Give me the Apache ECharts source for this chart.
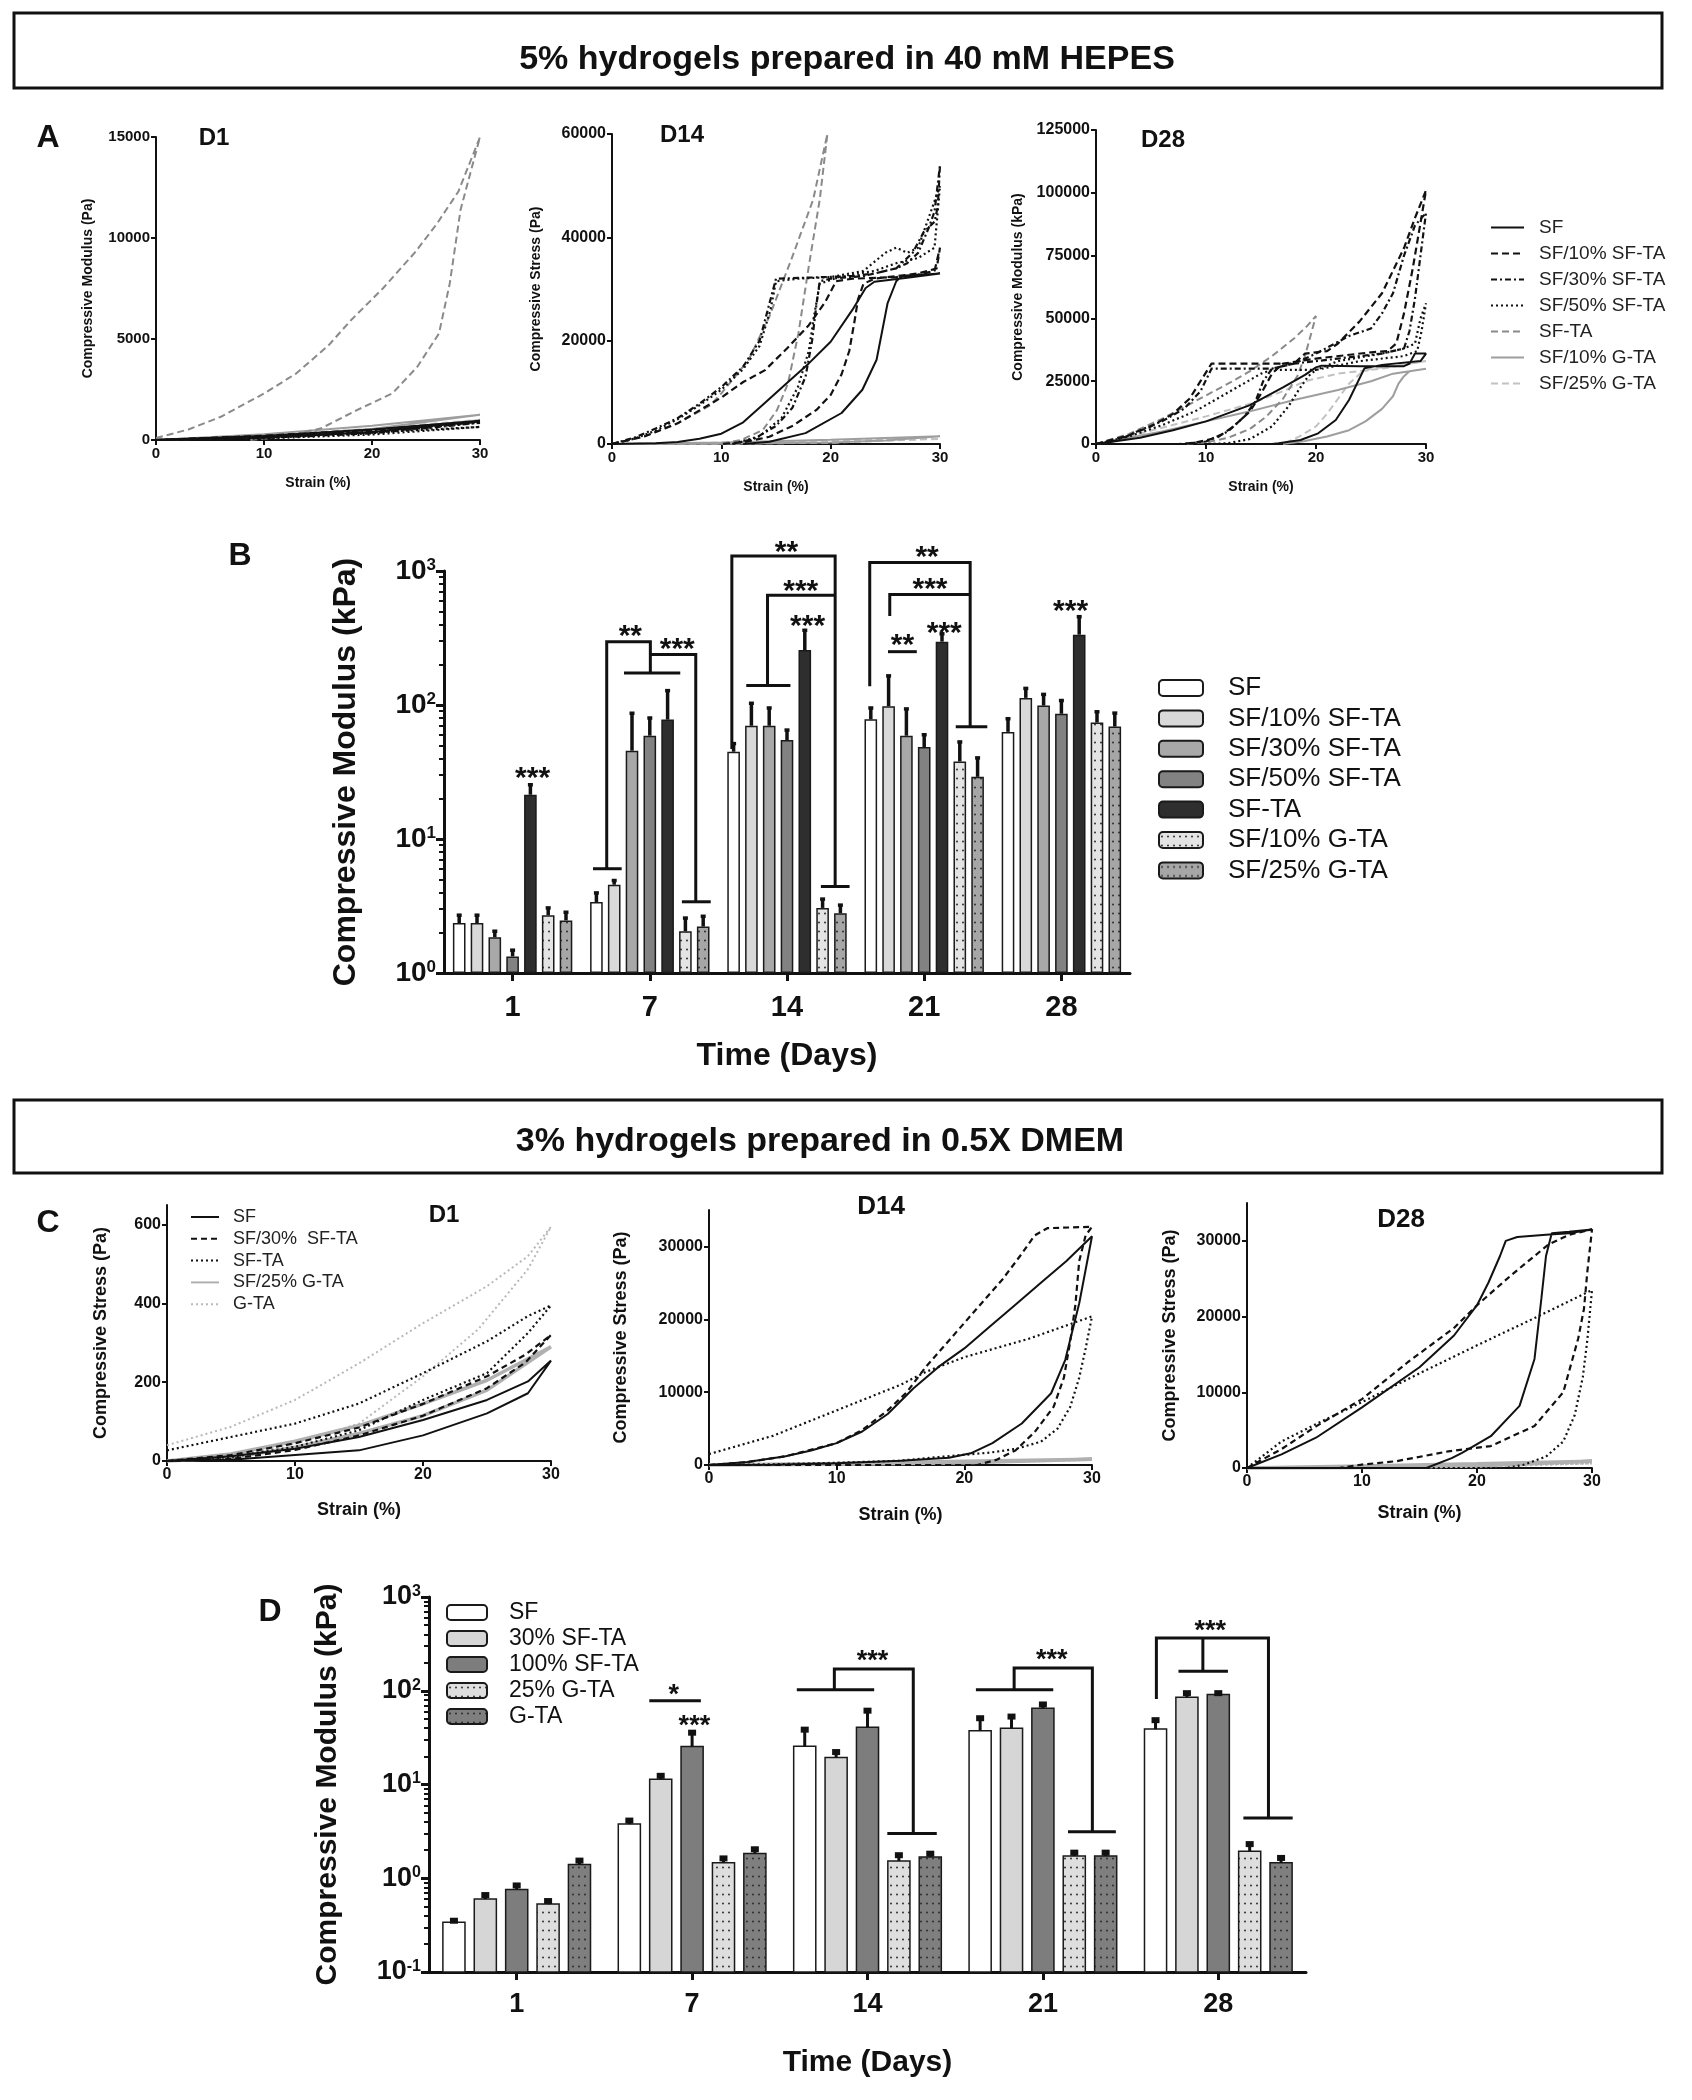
<!DOCTYPE html>
<html><head><meta charset="utf-8">
<script src="https://cdn.jsdelivr.net/npm/echarts@6/dist/echarts.min.js"></script>
<style>html,body{margin:0;padding:0;background:#fff}#c{width:1692px;height:2100px}</style>
</head><body><div id="c"></div>
<script>
// ================= DATA =================
const titleTop = '5% hydrogels prepared in 40 mM HEPES';
const titleBottom = '3% hydrogels prepared in 0.5X DMEM';
const groupsA = ['SF','SF/10% SF-TA','SF/30% SF-TA','SF/50% SF-TA','SF-TA','SF/10% G-TA','SF/25% G-TA'];
const groupsC = ['SF','SF/30%  SF-TA','SF-TA','SF/25% G-TA','G-TA'];
const groupsD = ['SF','30% SF-TA','100% SF-TA','25% G-TA','G-TA'];
const days = ['1','7','14','21','28'];
const C1_yTicks = [0,200,400,600];
const C2_yTicks = [0,10000,20000,30000];

// ---- Panel A, D1 (strain %, stress Pa) : loading then unloading
const A1_SF   = [[0,0],[10,200],[20,520],[30,950],[20,380],[10,120],[0,0]];
const A1_10SF = [[0,0],[10,210],[20,500],[30,920],[25,600],[20,380],[10,120],[0,0]];
const A1_30SF = [[0,0],[10,180],[20,450],[30,850],[20,330],[10,100],[0,0]];
const A1_50SF = [[0,0],[10,150],[20,380],[30,650],[20,270],[10,80],[0,0]];
const A1_SFTA = [[0,100],[3,520],[6,1150],[10,2300],[13,3300],[16,4700],[18,5900],[21,7500],[24,9300],[26,10700],[28,12300],[30,15000],
                 [28.2,11400],[27.2,7750],[26.2,5270],[24.2,3630],[21.9,2310],[18.6,1480],[15.3,580],[12,165],[8.7,0]];
const A1_10G  = [[0,0],[10,280],[20,700],[30,1250],[20,550],[10,180],[0,0]];
const A1_25G  = [[0,0],[10,230],[20,560],[30,1000],[20,420],[10,130],[0,0]];

// ---- Panel A, D14
const A14_SF   = [[0,0],[4,150],[6,400],[8,1000],[10,2000],[12,4200],[14,8000],[16,11800],[18,15600],[20,19800],[22,26000],[23.2,30200],[24,31400],[27,32200],[30,33000],
                  [26.5,32500],[26,31500],[25.2,27200],[24.2,16300],[22.9,10500],[21,6000],[17.7,2100],[14.4,450],[12,0]];
const A14_10SF = [[0,0],[3,1500],[6,4000],[8,6500],[10,9000],[12,12000],[14,14300],[16,18500],[18,23000],[19.5,27500],[20.5,31500],[22,32000],[26,32300],[28,32800],[29.5,33500],[30,38000],
                  [29.7,34000],[28,33000],[24,32000],[23,31000],[22.5,28000],[22.2,24000],[21.7,18000],[21,13500],[20,9500],[18.7,6600],[16.5,3500],[14.4,1400],[12.2,400],[10,0]];
const A14_30SF = [[0,0],[2,1200],[4,3000],[6,5000],[8,7800],[10,11000],[12,15000],[13.5,20000],[14.5,28000],[15,32000],[18,32200],[22,32500],[24,33000],[26,34000],[27,35000],[28,37000],[29,42000],[29.5,45000],[30,54000],
                  [29.8,46000],[29.5,43000],[28.5,41000],[27.5,37000],[26,34000],[23,32500],[20,32000],[19,31500],[18.7,27000],[18.3,20000],[17.7,13000],[16.5,7000],[15,3500],[13,1000],[11,0]];
const A14_50SF = [[0,0],[2,1000],[4,2600],[6,4800],[8,7500],[10,10500],[12,14500],[13.5,19000],[14.5,26000],[15,31500],[17,32000],[20,32300],[23,33500],[25,37000],[26,38000],[27,37000],[28,38000],[29,44000],[30,50000],
                  [29.5,38000],[28,36000],[26,35000],[24,33500],[21,32500],[19,31000],[18.5,25000],[18,18000],[17,11000],[15.5,5000],[13.5,1500],[11,0]];
const A14_SFTA = [[0,0],[3,1500],[6,4000],[9,7500],[10,9800],[12.5,16300],[14.4,24700],[16.4,35700],[18.4,47300],[19.7,60000],
                  [19,47300],[18,34400],[17.05,21400],[16.1,11760],[15.1,6590],[13.8,2710],[11.8,775],[9.9,0]];
const A14_10G  = [[0,0],[10,300],[20,800],[30,1500],[25,700],[20,300],[10,50],[0,0]];
const A14_25G  = [[0,0],[10,250],[20,600],[30,1000],[20,250],[10,50],[0,0]];

// ---- Panel A, D28
const A28_SF   = [[0,0],[4,2500],[7,5500],[10,9000],[14,15500],[17,22500],[19,27500],[20,30500],[20.5,31200],[24,31000],[28,31000],[28.5,32000],[29,36000],[30,36000],
                  [29.5,33000],[26,31500],[24.4,30100],[23,17500],[21.8,9550],[20.2,4250],[18.6,1600],[16.6,265],[16,0]];
const A28_10SF = [[0,0],[3,3500],[5,7000],[7,12000],[8.5,18000],[9.5,25000],[10.5,32000],[14,32000],[18,32000],[19,36000],[21,37000],[22,40000],[24,49000],[26,60000],[28,78000],[29,90000],[30,101000],
                  [29.5,88000],[28.8,70000],[28,52000],[27.3,40000],[26.5,37000],[25,36500],[20,34000],[17,32000],[16,28000],[15,20000],[14,13000],[12.5,7000],[11,2500],[9,500],[7.5,0]];
const A28_30SF = [[0,0],[2,1500],[4,5500],[6,9000],[8,14000],[9.5,21000],[10.5,30000],[16,30000],[18,32000],[20,36000],[23,43000],[25,46000],[26,52000],[27,60000],[28,75000],[29,87000],[30,92000],
                  [29.5,75000],[29,58000],[28.5,45000],[28,38000],[26,36000],[22,34000],[18,32000],[16,30000],[15.2,25000],[14.5,17000],[13.5,11000],[12,5000],[10,1000],[8,0]];
const A28_50SF = [[0,0],[3,3000],[6,7500],[9,13000],[11,18000],[13,23000],[15,28000],[16,29500],[20,29500],[22,33000],[26,36000],[28,38000],[29,40000],[29.5,50000],[30,56000],
                  [29.6,45000],[29.2,37000],[28,35000],[24,33000],[20,29500],[19.3,27000],[18.5,22000],[17.5,15000],[16,7000],[14,2000],[12,300],[10,0]];
const A28_SFTA = [[0,0],[3,4000],[6,10000],[9,17000],[12,24000],[14,29000],[16,35000],[18,42000],[19.2,47000],[20,51000],
                  [19.5,43000],[19,35000],[18.3,27000],[17,18000],[15.5,11000],[14,6000],[12,2500],[10,600],[8,0]];
const A28_10G  = [[0,0],[3,2500],[6,5000],[10,9000],[14,13000],[18,17500],[22,21500],[25,25000],[27,28000],[30,30000],
                  [28.5,29000],[28,27000],[27.5,24000],[27,19000],[26,14000],[24.5,9000],[23,5500],[21,3000],[19,1200],[17,0]];
const A28_25G  = [[0,0],[3,3000],[6,6500],[10,11000],[14,16000],[17,21000],[19,25000],[22,28000],[26,30000],[30,33000],
                  [27,31000],[25,30000],[24,28000],[23,24000],[22,18000],[21,12000],[20,7000],[18.5,3000],[17,0]];

// ---- Panel B bars (kPa) and error tops
const B_SF     = [2.36, 3.39, 44.8, 78.2, 63];   const B_SF_e     = [2.7, 3.96, 51.5, 95, 79];
const B_10SF   = [2.36, 4.56, 70, 98, 113];      const B_10SF_e   = [2.7, 4.9, 103, 165, 133];
const B_30SF   = [1.85, 45.6, 70, 59, 99];       const B_30SF_e   = [2.05, 86.8, 95, 93.5, 120];
const B_50SF   = [1.33, 59, 54.8, 48.5, 86];     const B_50SF_e   = [1.48, 80, 65, 60, 108];
const B_SFTA   = [21.4, 77.8, 257, 297, 335];    const B_SFTA_e   = [25.4, 128, 361, 340, 456];
const B_10G    = [2.7, 2.05, 3.06, 37.9, 74];    const B_10G_e    = [3.06, 2.57, 3.56, 53, 89];
const B_25G    = [2.47, 2.22, 2.79, 29.1, 69];   const B_25G_e    = [2.84, 2.65, 3.21, 40.3, 87];
// significance brackets: [category offset from day 1, kPa]
const B_brackets = [
  [[0.586,6.0],[0.795,6.0]], [[0.686,6.0],[0.686,297],[1.004,297],[1.004,173]], [[0.812,173],[1.222,173]],
  [[1.004,238],[1.335,238],[1.335,3.4]], [[1.234,3.4],[1.444,3.4]],
  [[1.598,47],[1.598,1294],[2.351,1294],[2.351,4.42]], [[2.247,4.42],[2.456,4.42]],
  [[1.858,140],[1.858,659],[2.351,659]], [[1.703,140],[2.025,140]],
  [[2.603,138],[2.603,1159],[3.335,1159],[3.335,68.8]], [[3.230,68.8],[3.460,68.8]],
  [[2.749,461],[2.749,667],[3.335,667]], [[2.736,250],[2.946,250]]
];
const B_stars = [['***',0.146,33],['**',0.858,379],['***',1.2,300],['**',1.996,1604],['***',2.1,817],['***',2.15,450],
                 ['**',3.021,1463],['***',3.042,841],['**',2.841,325],['***',3.146,398],['***',4.067,582]];

// ---- Panel C curves
const C1_SF   = [[0,0],[5,12],[10,31],[15,61],[20,104],[25,155],[28.2,202],[30,255],[28.2,172],[25,121],[20,65],[15,27],[10,15],[5,3],[0,0]];
const C1_30SF = [[0,0],[5,15],[10,45],[15,85],[20,145],[25,215],[28,270],[30,320],[28,250],[25,185],[20,115],[15,65],[10,28],[5,5],[0,0]];
const C1_SFTA = [[0,27],[5,61],[10,95],[15,146],[20,223],[25,304],[28.2,368],[30,395],[28.2,325],[25,223],[20,155],[15,78],[10,36],[5,10],[0,0]];
const C1_25G  = [[0,0],[5,18],[10,50],[15,90],[20,145],[25,205],[30,290],[25,180],[20,115],[15,70],[10,35],[5,8],[0,0]];
const C1_GTA  = [[0,40],[5,87],[10,155],[15,248],[20,350],[25,444],[28.2,520],[30,595],[28.2,487],[24.3,334],[20,215],[15,95],[10,44],[5,12],[0,0]];

const C14_SF   = [[0,0],[3,400],[6,1200],[8,2000],[10,3000],[12,4600],[14,7000],[16,10500],[18,13500],[20,16000],[22,19000],[24,22000],[26,25000],[28,28000],[30,31400],
                  [29,22200],[27.9,14400],[26.8,9850],[24.5,5700],[22.2,3000],[20.5,1600],[18.8,1000],[15,600],[10,250],[5,50],[0,0]];
const C14_30SF = [[0,0],[3,400],[6,1200],[10,3000],[12,4800],[14,7500],[15.5,10000],[17,13500],[19,17500],[21,21500],[23,25500],[24.5,29000],[25.5,31500],[26.5,32500],[30,32700],
                  [29.5,31500],[29,28000],[28.7,22000],[28.3,17000],[27.8,12000],[27,8000],[25.5,4500],[24,2000],[22.5,700],[21,0],[0,0]];
const C14_SFTA = [[0,1500],[5,4000],[10,7500],[15,11000],[17,12800],[20,14800],[25,17300],[30,20400],
                  [29.5,16000],[29,12000],[28.3,8000],[27.3,5000],[26,3200],[24,2200],[22,1700],[18,1100],[15,600],[10,300],[5,100],[0,0]];
const C14_25G  = [[0,0],[10,200],[20,500],[30,800],[20,300],[10,100],[0,0]];
const C14_GTA  = [[0,0],[10,200],[20,450],[30,700],[20,250],[10,60],[0,0]];

const C28_SF   = [[0,0],[3,1800],[6,4000],[10,8000],[15,13300],[18,17500],[20,21500],[21,24500],[22,28000],[22.5,30000],[23.5,30500],[26,30800],[28,31000],[30,31500],
                  [28,31200],[26.5,31000],[26,28000],[25.6,22400],[25,14400],[23.7,8200],[21.2,4200],[18.7,2000],[17.8,1300],[15.6,0],[0,0]];
const C28_30SF = [[0,0],[3,2500],[6,5500],[10,9100],[14,14000],[18,18500],[20,21500],[23,25500],[26.2,29500],[28,30800],[30,31500],
                  [29.6,26000],[29.3,21000],[28.8,17100],[27.5,10000],[25,5550],[21.2,2900],[17.5,2200],[13,900],[10,450],[8,0],[0,0]];
const C28_SFTA = [[0,0],[3,3500],[6,5800],[10,8700],[15,12500],[20,16200],[25,19800],[30,23500],
                  [29.6,17000],[29.2,12000],[28.5,7000],[27.5,3500],[26,1500],[24,400],[22.5,0],[0,0]];
const C28_25G  = [[0,0],[10,250],[20,550],[30,900],[20,300],[10,50],[0,0]];
const C28_GTA  = [[0,0],[15,200],[30,600],[20,150],[10,30],[0,0]];

// ---- Panel D bars (kPa) and error tops
const D_SF    = [0.34, 3.78, 25.6, 37.5, 39];   const D_SF_e    = [0.37, 4.33, 40.4, 53.5, 51];
const D_30SF  = [0.60, 11.4, 19.4, 39.7, 85];   const D_30SF_e  = [0.695, 13, 23.3, 55.7, 99];
const D_100SF = [0.76, 25.4, 40.8, 65, 91];     const D_100SF_e = [0.88, 37.5, 64.4, 75, 99];
const D_25G   = [0.53, 1.46, 1.53, 1.73, 1.94]; const D_25G_e   = [0.60, 1.71, 1.85, 1.97, 2.43];
const D_GTA   = [1.40, 1.84, 1.69, 1.73, 1.46]; const D_GTA_e   = [1.62, 2.14, 1.92, 1.97, 1.73];
const D_brackets = [
  [[0.756,78.2],[1.050,78.2]],
  [[1.597,102.6],[2.038,102.6]], [[1.811,102.6],[1.811,170.5],[2.261,170.5],[2.261,3.0]], [[2.113,3.0],[2.395,3.0]],
  [[2.618,102.6],[3.059,102.6]], [[2.836,102.6],[2.836,175],[3.282,175],[3.282,3.13]], [[3.143,3.13],[3.416,3.13]],
  [[3.647,81.6],[3.647,365],[4.286,365],[4.286,4.4]], [[3.912,365],[3.912,161]], [[3.773,161],[4.055,161]], [[4.143,4.4],[4.424,4.4]]
];
const D_stars = [['*',0.895,108],['***',1.013,51],['***',2.029,252],['***',3.050,256],['***',3.954,526]];

// ================= CHART =================
const F = 'Liberation Sans, Arial, Helvetica, sans-serif';
const chart = echarts.init(document.getElementById('c'), null, {renderer:'canvas'});

function dots(bg){
  const c=document.createElement('canvas'); c.width=6; c.height=9;
  const x=c.getContext('2d'); x.fillStyle=bg; x.fillRect(0,0,6,9);
  x.fillStyle='#2a2a2a'; x.beginPath(); x.arc(3,4.5,0.95,0,Math.PI*2); x.fill();
  return {image:c, repeat:'repeat'};
}

const grids = [
  {left:156, top:137, width:324, height:303},   // 0 A-D1
  {left:612, top:134, width:328, height:310},   // 1 A-D14
  {left:1096, top:130, width:330, height:314},  // 2 A-D28
  {left:444, top:571, width:686, height:402},   // 3 B
  {left:167, top:1205, width:384, height:256},  // 4 C-D1
  {left:709, top:1210, width:383, height:255},  // 5 C-D14
  {left:1247, top:1203, width:345, height:265}, // 6 C-D28
  {left:429, top:1597, width:877, height:375}   // 7 D
];

function vAxis(gi, o){
  const a = {
    type:'value', gridIndex:gi, min:o.min, max:o.max, interval:o.interval,
    axisLine:{show:true, onZero:false, lineStyle:{color:'#111', width:2}},
    axisTick:{show:true, inside:false, length:5, lineStyle:{color:'#111', width:2}},
    axisLabel:{color:'#111', fontWeight:'bold', fontSize:o.fs||15, fontFamily:F, margin:o.margin||6, formatter:v=>String(v)},
    splitLine:{show:false},
    name:o.name, nameLocation:'middle', nameGap:o.gap,
    nameTextStyle:{color:'#111', fontWeight:'bold', fontSize:o.nfs||14, fontFamily:F}
  };
  if (o.custom){ a.axisTick.customValues=o.custom; a.axisLabel.customValues=o.custom; }
  return a;
}

const xAxes = [], yAxes = [];
// A
[0,1,2].forEach(g=>xAxes.push(vAxis(g,{min:0,max:30,interval:10,name:'Strain (%)',gap:36})));
yAxes.push(vAxis(0,{min:0,max:15000,interval:5000,name:'Compressive Modulus (Pa)',gap:61}));
yAxes.push(vAxis(1,{min:0,max:60000,interval:20000,name:'Compressive Stress (Pa)',gap:69,fs:16}));
yAxes.push(vAxis(2,{min:0,max:125000,interval:25000,name:'Compressive Modulus (kPa)',gap:71,fs:16}));
const logLabel = v => '{b|10}{s|' + Math.round(Math.log10(v)) + '}';
function catAxis(gi, fs, margin, gap){
  return {type:'category', gridIndex:gi, data:days, boundaryGap:true,
    axisLine:{show:true, onZero:false, lineStyle:{color:'#111', width:3}},
    axisTick:{show:true, alignWithLabel:true, length:8, lineStyle:{color:'#111', width:3}},
    axisLabel:{color:'#111', fontWeight:'bold', fontSize:fs, fontFamily:F, margin:margin},
    name:'Time (Days)', nameLocation:'middle', nameGap:gap,
    nameTextStyle:{color:'#111', fontWeight:'bold', fontSize:32, fontFamily:F}};
}
function logAxis(gi, min, max, gap, fs){
  return {type:'log', logBase:10, gridIndex:gi, min:min, max:max, startValue:min,
    axisLine:{show:true, lineStyle:{color:'#111', width:3}},
    axisTick:{show:true, length:8, lineStyle:{color:'#111', width:3}},
    axisLabel:{formatter:logLabel, margin:8, rich:{
      b:{fontSize:fs, fontWeight:'bold', fontFamily:F, color:'#111', verticalAlign:'bottom'},
      s:{fontSize:Math.round(fs*0.6), fontWeight:'bold', fontFamily:F, color:'#111', verticalAlign:'top'}}},
    splitLine:{show:false},
    name:'Compressive Modulus (kPa)', nameLocation:'middle', nameGap:gap,
    nameTextStyle:{color:'#111', fontWeight:'bold', fontSize:32, fontFamily:F}};
}
function minorAxis(gi, lo, hi){
  const vals=[]; for(let d=lo; d<hi; d++) for(let k=2;k<10;k++) vals.push(d-lo+Math.log10(k));
  return {type:'value', gridIndex:gi, min:0, max:hi-lo, position:'left',
    axisLine:{show:false}, axisLabel:{show:false}, splitLine:{show:false},
    axisTick:{show:true, length:5, customValues:vals, lineStyle:{color:'#111', width:2}}};
}
xAxes.push(catAxis(3, 29, 20, 67));
yAxes.push(logAxis(3, 1, 1000, 82, 28));   // 3
yAxes.push(minorAxis(3, 0, 3));            // 4
xAxes.push(vAxis(4,{min:0,max:30,interval:10,name:'Strain (%)',gap:40,fs:16,nfs:18}));
xAxes.push(vAxis(5,{min:0,max:30,interval:10,name:'Strain (%)',gap:41,fs:16,nfs:18}));
xAxes.push(vAxis(6,{min:0,max:30,interval:10,name:'Strain (%)',gap:36,fs:16,nfs:18}));
yAxes.push(vAxis(4,{min:0,max:650,custom:C1_yTicks,name:'Compressive Stress (Pa)',gap:57,fs:16,nfs:18}));
yAxes.push(vAxis(5,{min:0,max:35000,custom:C2_yTicks,name:'Compressive Stress (Pa)',gap:79,fs:16,nfs:18}));
yAxes.push(vAxis(6,{min:0,max:35000,custom:C2_yTicks,name:'Compressive Stress (Pa)',gap:68,fs:16,nfs:18}));
const dx = catAxis(7, 27, 19, 76); dx.nameTextStyle.fontSize = 30;
xAxes.push(dx);
const dy = logAxis(7, 0.1, 1000, 86, 27); dy.nameTextStyle.fontSize = 30;
yAxes.push(dy);               // 8
yAxes.push(minorAxis(7, -1, 3)); // 9

// ---------- line styles
const stA = {
  'SF':{color:'#111',width:2,type:'solid'},
  'SF/10% SF-TA':{color:'#111',width:2.2,type:[7,4]},
  'SF/30% SF-TA':{color:'#111',width:2.2,type:[6,3,2,3]},
  'SF/50% SF-TA':{color:'#111',width:2.2,type:[2,3]},
  'SF-TA':{color:'#8a8a8a',width:2,type:[7,4]},
  'SF/10% G-TA':{color:'#9e9e9e',width:2,type:'solid'},
  'SF/25% G-TA':{color:'#c2c2c2',width:2,type:[7,4]}
};
const stC = {
  'SF':{color:'#111',width:2,type:'solid'},
  'SF/30%  SF-TA':{color:'#111',width:2.2,type:[6,4]},
  'SF-TA':{color:'#111',width:2.2,type:[2,3]},
  'SF/25% G-TA':{color:'#b0b0b0',width:3.5,type:'solid'},
  'G-TA':{color:'#b8b8b8',width:2,type:[2,3]}
};
const series = [];
function line(prefix, label, style, data, xi, yi){
  series.push({type:'line', name:prefix+label, xAxisIndex:xi, yAxisIndex:yi, data:data,
    symbol:'none', showSymbol:false, lineStyle:style, itemStyle:{color:'rgba(0,0,0,0)', borderWidth:0},
    animation:false, clip:false});
}
const A1 = [A1_SF,A1_10SF,A1_30SF,A1_50SF,A1_SFTA,A1_10G,A1_25G];
const A14 = [A14_SF,A14_10SF,A14_30SF,A14_50SF,A14_SFTA,A14_10G,A14_25G];
const A28 = [A28_SF,A28_10SF,A28_30SF,A28_50SF,A28_SFTA,A28_10G,A28_25G];
[A1,A14,A28].forEach((set,p)=>{
  [6,5,4,3,2,1,0].forEach(i=>line('A:',groupsA[i],stA[groupsA[i]],set[i],p,p));
});
const C1 = [C1_SF,C1_30SF,C1_SFTA,C1_25G,C1_GTA];
const C14 = [C14_SF,C14_30SF,C14_SFTA,C14_25G,C14_GTA];
const C28 = [C28_SF,C28_30SF,C28_SFTA,C28_25G,C28_GTA];
[[C1,4,5],[C14,5,6],[C28,6,7]].forEach(([set,xi,yi])=>{
  [4,3,2,1,0].forEach(i=>line('C:',groupsC[i],stC[groupsC[i]],set[i],xi,yi));
});

// ---------- bars (B: bar series; D: custom rects from axis floor, bar series kept for legend)
const B_vals = [B_SF,B_10SF,B_30SF,B_50SF,B_SFTA,B_10G,B_25G];
const B_errs = [B_SF_e,B_10SF_e,B_30SF_e,B_50SF_e,B_SFTA_e,B_10G_e,B_25G_e];
const B_fill = ['#ffffff','#d9d9d9','#a8a8a8','#828282','#2e2e2e',dots('#e4e4e4'),dots('#a6a6a6')];
const B_BW = 0.092, B_GAP = 0.41;
B_vals.forEach((v,j)=>series.push({type:'bar', name:'B:'+groupsA[j], xAxisIndex:3, yAxisIndex:3, data:v,
  barWidth:(B_BW*100)+'%', barGap:(B_GAP*100)+'%', animation:false,
  itemStyle:{color:B_fill[j], borderColor:'#1a1a1a', borderWidth:1.5}}));
const D_vals = [D_SF,D_30SF,D_100SF,D_25G,D_GTA];
const D_errs = [D_SF_e,D_30SF_e,D_100SF_e,D_25G_e,D_GTA_e];
const D_fill = ['#ffffff','#d6d6d6','#7d7d7d',dots('#dedede'),dots('#7f7f7f')];
const D_BW = 0.126, D_GAP = 0.42, D_FLOOR = 0.1;
D_vals.forEach((v,j)=>series.push({type:'bar', name:'D:'+groupsD[j], xAxisIndex:7, yAxisIndex:8, data:[],
  animation:false, itemStyle:{color:D_fill[j], borderColor:'#1a1a1a', borderWidth:1.5}}));
(function(){
  const n = D_vals.length, data=[];
  D_vals.forEach((v,j)=>v.forEach((val,i)=>data.push([i,val,j])));
  series.push({type:'custom', xAxisIndex:7, yAxisIndex:8, data:data, encode:{x:0,y:1}, z:3, clip:false, animation:false,
    renderItem:function(params, api){
      const cat=api.value(0), v=api.value(1), j=api.value(2);
      const band = api.size([1,1],[cat,v])[0];
      const bw = band*D_BW;
      const top = api.coord([cat,v]), bot = api.coord([cat,D_FLOOR]);
      const x = top[0] + (j-(n-1)/2)*bw*(1+D_GAP);
      return {type:'rect', shape:{x:x-bw/2, y:top[1], width:bw, height:bot[1]-top[1]},
        style:{fill:D_fill[j], stroke:'#1a1a1a', lineWidth:1.5}};
    }});
})();

function errSeries(vals, errs, xi, yi, bwF, gapF, capW, lw, capH){
  const n = vals.length, data=[];
  vals.forEach((v,j)=>v.forEach((val,i)=>data.push([i,j,val,errs[j][i]])));
  series.push({type:'custom', xAxisIndex:xi, yAxisIndex:yi, data:data, encode:{x:0,y:2}, z:5, clip:false, animation:false,
    renderItem:function(params, api){
      const cat=api.value(0), j=api.value(1), v=api.value(2), e=api.value(3);
      const band = api.size([1,1],[cat,v])[0];
      const bw = band*bwF;
      const p0 = api.coord([cat,v]), p1 = api.coord([cat,e]);
      const x = p0[0] + (j-(n-1)/2)*bw*(1+gapF);
      const ch = [{type:'line', shape:{x1:x,y1:p0[1],x2:x,y2:p1[1]}, style:{stroke:'#111', lineWidth:lw}}];
      if (capH) ch.push({type:'rect', shape:{x:x-capW/2,y:p1[1]-1,width:capW,height:capH}, style:{fill:'#111'}});
      else ch.push({type:'line', shape:{x1:x-capW/2,y1:p1[1],x2:x+capW/2,y2:p1[1]}, style:{stroke:'#111', lineWidth:lw}});
      return {type:'group', children:ch};
    }});
}
errSeries(B_vals,B_errs,3,3,B_BW,B_GAP,5,3.5,0);
errSeries(D_vals,D_errs,7,8,D_BW,D_GAP,8,3,6);

function annot(brackets, stars, xi, yi, lw, starFs){
  series.push({type:'custom', xAxisIndex:xi, yAxisIndex:yi, data:brackets.map(b=>[0,b[0][1]]), encode:{x:0,y:1}, z:6, clip:false, animation:false,
    renderItem:function(params, api){
      const band = api.size([1,1],[0,1])[0];
      const x0 = api.coord([0,1])[0];
      const pts = brackets[params.dataIndex].map(p=>[x0+p[0]*band, api.coord([0,p[1]])[1]]);
      return {type:'polyline', shape:{points:pts}, style:{stroke:'#111', lineWidth:lw, fill:null, lineJoin:'miter'}};
    }});
  series.push({type:'custom', xAxisIndex:xi, yAxisIndex:yi, data:stars.map(s=>[0,s[2]]), encode:{x:0,y:1}, z:6, clip:false, animation:false,
    renderItem:function(params, api){
      const s = stars[params.dataIndex];
      const band = api.size([1,1],[0,1])[0];
      const x0 = api.coord([0,1])[0];
      return {type:'text', style:{text:s[0], x:x0+s[1]*band, y:api.coord([0,s[2]])[1]+starFs*0.3,
        textAlign:'center', textVerticalAlign:'middle', font:'bold '+starFs+'px '+F, fill:'#111'}};
    }});
}
annot(B_brackets, B_stars, 3, 3, 3, 30);
annot(D_brackets, D_stars, 7, 8, 3, 27);

// ---------- legends
const strip = n => n.slice(2);
const legends = [
  {data:groupsA.map(g=>'A:'+g), left:1490, top:218, itemWidth:33, itemHeight:12, itemGap:7,
   textStyle:{fontSize:19, lineHeight:19, fontFamily:F, color:'#222', padding:[0,0,0,10]}},
  {data:groupsA.map(g=>'B:'+g), left:1158, top:675, itemWidth:44, itemHeight:16, itemGap:4.4,
   textStyle:{fontSize:26, lineHeight:26, fontFamily:F, color:'#111', padding:[0,0,0,20]}},
  {data:groupsC.map(g=>'C:'+g), left:190, top:1208, itemWidth:28, itemHeight:10, itemGap:3.8,
   textStyle:{fontSize:18, lineHeight:18, fontFamily:F, color:'#222', padding:[0,0,0,9]}},
  {data:groupsD.map(g=>'D:'+g), left:446, top:1601, itemWidth:40, itemHeight:15, itemGap:3,
   textStyle:{fontSize:23, lineHeight:23, fontFamily:F, color:'#111', padding:[0,0,0,17]}}
].map(l=>Object.assign({orient:'vertical', formatter:strip, selectedMode:false, padding:0}, l));

// ---------- graphic texts / boxes
const T = (text,x,y,fs,extra)=>Object.assign({type:'text', x:x, y:y, style:{text:text, font:'bold '+fs+'px '+F, fill:'#111', textAlign:'center', textVerticalAlign:'middle'}}, extra||{});
const graphic = [
  {type:'rect', shape:{x:14,y:13,width:1648,height:75}, style:{fill:'none', stroke:'#111', lineWidth:3}},
  T(titleTop, 847, 60, 34),
  {type:'rect', shape:{x:14,y:1100,width:1648,height:73}, style:{fill:'none', stroke:'#111', lineWidth:3}},
  T(titleBottom, 820, 1142, 34),
  T('A', 48, 138, 32), T('B', 240, 556, 32), T('C', 48, 1223, 32), T('D', 270, 1612, 32),
  T('D1', 214, 138, 24), T('D14', 682, 135, 24), T('D28', 1163, 140, 24),
  T('D1', 444, 1215, 24), T('D14', 881, 1207, 26), T('D28', 1401, 1220, 26)
];

chart.setOption({
  backgroundColor:'#ffffff', animation:false,
  grid:grids, xAxis:xAxes, yAxis:yAxes, series:series, legend:legends, graphic:graphic
});
</script></body></html>
